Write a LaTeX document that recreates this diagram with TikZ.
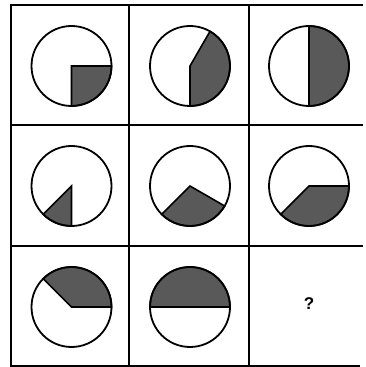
\documentclass[tikz,border=0pt]{standalone}
\usepackage{fontspec}
\setmainfont{Liberation Sans}
\begin{document}
\begin{tikzpicture}[x=1pt,y=1pt,
  gridline/.style={line width=1.5pt,black},
  ring/.style={line width=1.8pt,black},
  sector/.style={fill=black!65,draw=black,line width=1.6pt,line join=miter},
  qmark/.style={font=\fontsize{17}{17}\selectfont\bfseries}]
\useasboundingbox (0,0) rectangle (366,367);
% grid
\draw[gridline] (363,362) -- (11,362) -- (11,1) -- (360,1);
\draw[gridline] (129,362) -- (129,1);
\draw[gridline] (249,362) -- (249,1);
\draw[gridline] (11,242) -- (363,242);
\draw[gridline] (11,121) -- (363,121);
% centres
\coordinate (c11) at (71.5,301);
\coordinate (c12) at (190,301);
\coordinate (c13) at (309,301);
\coordinate (c21) at (71.5,181);
\coordinate (c22) at (190,181);
\coordinate (c23) at (309,181);
\coordinate (c31) at (71.5,60);
\coordinate (c32) at (190,60);
\coordinate (c33) at (309,63);
\def\R{40}
% sectors
\filldraw[sector] (c11) -- ++(-90:\R) arc[start angle=-90,end angle=0,radius=\R] -- cycle;
\filldraw[sector] (c12) -- ++(-90:\R) arc[start angle=-90,end angle=60,radius=\R] -- cycle;
\filldraw[sector] (c13) -- ++(-90:\R) arc[start angle=-90,end angle=90,radius=\R] -- cycle;
\filldraw[sector] (c21) -- ++(225:\R) arc[start angle=225,end angle=270,radius=\R] -- cycle;
\filldraw[sector] (c22) -- ++(225:\R) arc[start angle=225,end angle=330,radius=\R] -- cycle;
\filldraw[sector] (c23) -- ++(225:\R) arc[start angle=225,end angle=360,radius=\R] -- cycle;
\filldraw[sector] (c31) -- ++(0:\R) arc[start angle=0,end angle=135,radius=\R] -- cycle;
\filldraw[sector] (c32) -- ++(0:\R) arc[start angle=0,end angle=180,radius=\R] -- cycle;
% circles
\foreach \c in {c11,c12,c13,c21,c22,c23,c31,c32}
  \draw[ring] (\c) circle[radius=\R];
\node[qmark] (q) at (c33) {?};
\end{tikzpicture}
\end{document}
